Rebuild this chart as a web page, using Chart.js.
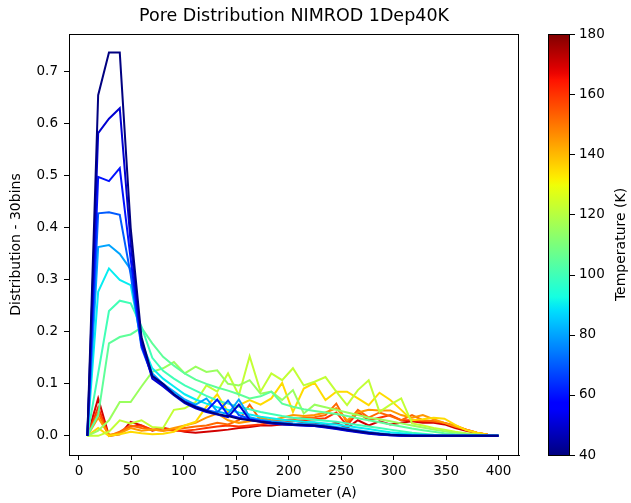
<!DOCTYPE html>
<html><head><meta charset="utf-8">
<script src="https://cdn.jsdelivr.net/npm/chart.js@4.4.1/dist/chart.umd.min.js"></script>
<style>html,body{margin:0;padding:0;background:#fff;}canvas{display:block;}</style>
</head><body>
<canvas id="c" width="631" height="503" style="width:631px;height:503px"></canvas>
<script>
// ---- data ----
const poreDiameter = [8,18.3,28.6,38.9,49.3,59.6,69.9,80.2,90.5,100.8,111.2,121.5,131.8,142.1,152.4,162.7,173.1,183.4,193.7,204,214.3,224.6,235,245.3,255.6,265.9,276.2,286.5,296.8,307.2,317.5,327.8,338.1,348.4,358.7,369.1,379.4,389.7,400];
const temperatures = [40,50,60,70,80,90,100,105,115,122,135,145,152,160,170];
const xTicks = [0,50,100,150,200,250,300,350,400];
const yTicks = [0,0.1,0.2,0.3,0.4,0.5,0.6,0.7];
const cbarTicks = [40,60,80,100,120,140,160,180];
const cbarRange = [40,180];

const dist40 = [0,0.655,0.737,0.737,0.40,0.19,0.115,0.10,0.08,0.065, 0.055,0.048,0.042,0.038,0.033,0.03,0.027,0.025,0.024,0.022, 0.021,0.02,0.018,0.015,0.012,0.009,0.006,0.004,0.002,0.001, 0,0,0,0,0,0,0,0,0];
const dist50 = [0,0.582,0.61,0.63,0.37,0.18,0.11,0.095,0.078,0.063, 0.053,0.046,0.041,0.036,0.06,0.031,0.027,0.024,0.022,0.021, 0.02,0.019,0.016,0.013,0.01,0.007,0.004,0.002,0.001,0, 0,0,0,0,0,0,0,0,0];
const dist60 = [0,0.498,0.49,0.515,0.34,0.175,0.115,0.098,0.08,0.066, 0.056,0.048,0.07,0.04,0.035,0.031,0.028,0.025,0.023,0.021, 0.02,0.019,0.017,0.014,0.011,0.008,0.005,0.003,0.001,0, 0,0,0,0,0,0,0,0,0];
const dist70 = [0,0.428,0.43,0.425,0.31,0.17,0.115,0.097,0.08,0.066, 0.057,0.05,0.045,0.068,0.04,0.033,0.029,0.026,0.024,0.022, 0.021,0.02,0.018,0.015,0.012,0.009,0.006,0.003,0.002,0.001, 0,0,0,0,0,0,0,0,0];
const dist80 = [0,0.363,0.367,0.35,0.32,0.175,0.12,0.1,0.085,0.07, 0.06,0.072,0.047,0.042,0.07,0.036,0.031,0.028,0.026,0.024, 0.023,0.022,0.02,0.017,0.014,0.011,0.008,0.005,0.003,0.002, 0.001,0,0,0,0,0,0,0,0];
const dist90 = [0,0.277,0.322,0.3,0.29,0.18,0.13,0.11,0.095,0.08, 0.07,0.062,0.055,0.05,0.045,0.041,0.037,0.034,0.031,0.029, 0.027,0.026,0.024,0.022,0.019,0.016,0.013,0.01,0.007,0.005, 0.003,0.002,0.001,0,0,0,0,0,0];
const dist100 = [0,0.12,0.24,0.26,0.255,0.21,0.15,0.125,0.11,0.097, 0.087,0.077,0.068,0.062,0.056,0.051,0.046,0.042,0.038,0.035, 0.033,0.031,0.029,0.027,0.024,0.021,0.018,0.015,0.012,0.009, 0.006,0.004,0.002,0.001,0,0,0,0,0];
const dist105 = [0,0.04,0.178,0.19,0.195,0.208,0.178,0.152,0.135,0.12, 0.108,0.1,0.093,0.087,0.08,0.072,0.076,0.085,0.062,0.056, 0.051,0.048,0.045,0.042,0.038,0.034,0.03,0.026,0.022,0.018, 0.014,0.011,0.008,0.005,0.003,0.002,0.001,0,0];
const dist115 = [0,0.01,0.03,0.065,0.065,0.095,0.123,0.13,0.142,0.12, 0.133,0.123,0.126,0.1,0.097,0.107,0.081,0.085,0.069,0.088, 0.043,0.06,0.055,0.05,0.045,0.04,0.035,0.032,0.028,0.024, 0.02,0.016,0.012,0.009,0.006,0.004,0.002,0.001,0];
const dist122 = [0,0,0.008,0.03,0.024,0.03,0.017,0.015,0.05,0.053, 0.065,0.097,0.085,0.12,0.078,0.153,0.085,0.12,0.107,0.13, 0.097,0.104,0.113,0.085,0.059,0.088,0.107,0.046,0.06,0.072, 0.024,0.02,0.015,0.012,0.008,0.005,0.003,0.001,0];
const dist135 = [0,0.015,0,0.003,0.008,0.005,0.003,0.004,0.008,0.02, 0.027,0.056,0.08,0.046,0.059,0.069,0.06,0.072,0.102,0.046, 0.091,0.102,0.069,0.085,0.085,0.072,0.059,0.083,0.069,0.05, 0.03,0.032,0.035,0.033,0.021,0.011,0.006,0.002,0];
const dist145 = [0,0.035,0.002,0.005,0.015,0.01,0.012,0.01,0.015,0.02, 0.025,0.035,0.043,0.03,0.025,0.028,0.035,0.03,0.035,0.04, 0.038,0.04,0.045,0.053,0.03,0.045,0.05,0.049,0.049,0.04, 0.035,0.04,0.032,0.025,0.018,0.012,0.006,0.002,0];
const dist152 = [0,0.045,0,0.008,0.02,0.015,0.012,0.01,0.012,0.015, 0.018,0.02,0.025,0.022,0.03,0.06,0.03,0.028,0.03,0.032, 0.035,0.036,0.04,0.062,0.025,0.05,0.035,0.045,0.038,0.03, 0.04,0.03,0.028,0.025,0.02,0.012,0.006,0.002,0];
const dist160 = [0,0.055,0,0.005,0.018,0.02,0.012,0.015,0.01,0.01, 0.012,0.015,0.018,0.02,0.018,0.02,0.022,0.025,0.025,0.028, 0.03,0.032,0.034,0.045,0.02,0.045,0.03,0.035,0.04,0.03, 0.03,0.028,0.028,0.025,0.018,0.012,0.006,0.002,0];
const dist170 = [0,0.072,0,0.003,0.027,0.02,0.01,0.015,0.012,0.008, 0.006,0.008,0.01,0.012,0.015,0.017,0.02,0.02,0.022,0.022, 0.025,0.025,0.02,0.025,0.015,0.03,0.02,0.028,0.022,0.025, 0.028,0.025,0.025,0.022,0.015,0.01,0.005,0.002,0];

const seriesList = [dist40,dist50,dist60,dist70,dist80,dist90,dist100,dist105,dist115,dist122,dist135,dist145,dist152,dist160,dist170];

// ---- jet colormap (matplotlib segment data) ----
function interp(seg, t){
  for (let k=1;k<seg.length;k++){
    if (t <= seg[k][0]) { const a=seg[k-1], b=seg[k]; return a[1] + (b[1]-a[1])*(t-a[0])/(b[0]-a[0]); }
  }
  return seg[seg.length-1][1];
}
const jetR=[[0,0],[0.35,0],[0.66,1],[0.89,1],[1,0.5]];
const jetG=[[0,0],[0.125,0],[0.375,1],[0.64,1],[0.91,0],[1,0]];
const jetB=[[0,0.5],[0.11,1],[0.34,1],[0.65,0],[1,0]];
function jet(t){
  t=Math.max(0,Math.min(1,t));
  return `rgb(${Math.round(interp(jetR,t)*255)},${Math.round(interp(jetG,t)*255)},${Math.round(interp(jetB,t)*255)})`;
}
function tempColor(T){ return jet((T-cbarRange[0])/(cbarRange[1]-cbarRange[0])); }

const FONT = "'DejaVu Sans', sans-serif";
const TICK_PX = 13.5;
const LABEL_PX = 14;
const TITLE_PX = 17.5;

const datasets = seriesList.map((s,k)=>({
  label: temperatures[k]+' K',
  data: poreDiameter.map((x,i)=>({x:x, y:s[i]})),
  borderColor: tempColor(temperatures[k]),
  backgroundColor: tempColor(temperatures[k]),
  borderWidth: 2,
  pointRadius: 0,
  tension: 0,
  fill: false
}));

const decor = {
  id:'decor',
  afterDatasetsDraw(chart){
    const ctx=chart.ctx, a=chart.chartArea;
    ctx.save();
    ctx.strokeStyle='#000'; ctx.lineWidth=1;
    ctx.strokeRect(Math.round(a.left)+0.5, Math.round(a.top)+0.5, Math.round(a.right-a.left)-1, Math.round(a.bottom-a.top));
    ctx.restore();
  },
  afterDraw(chart){
    const ctx=chart.ctx, a=chart.chartArea;
    ctx.save();
    ctx.fillStyle='#000';
    ctx.font = `${TITLE_PX}px ${FONT}`;
    ctx.textAlign='center'; ctx.textBaseline='middle';
    ctx.fillText('Pore Distribution NIMROD 1Dep40K', (a.left+a.right)/2, 16);
    ctx.font = `${LABEL_PX}px ${FONT}`;
    ctx.fillText('Pore Diameter (A)', (a.left+a.right)/2, 493);
    ctx.save();
    ctx.translate(16,(a.top+a.bottom)/2); ctx.rotate(-Math.PI/2);
    ctx.fillText('Distribution - 30bins',0,0);
    ctx.restore();
    // colorbar
    const cx0=548, cx1=570, cy0=a.top, cy1=a.bottom;
    const g=ctx.createLinearGradient(0,cy1,0,cy0);
    for(let k=0;k<=64;k++){ g.addColorStop(k/64, jet(k/64)); }
    ctx.fillStyle=g;
    ctx.fillRect(cx0,cy0,cx1-cx0,cy1-cy0);
    ctx.strokeStyle='#000'; ctx.lineWidth=1;
    ctx.strokeRect(cx0+0.5,cy0+0.5,cx1-cx0-1,cy1-cy0);
    ctx.fillStyle='#000';
    ctx.textAlign='left'; ctx.textBaseline='middle';
    ctx.font = `${TICK_PX}px ${FONT}`;
    cbarTicks.forEach(v=>{
      const y = cy1 - (v-cbarRange[0])/(cbarRange[1]-cbarRange[0])*(cy1-cy0);
      const yy=Math.round(y)+0.5;
      ctx.beginPath(); ctx.moveTo(cx1,yy); ctx.lineTo(cx1+5,yy); ctx.stroke();
      ctx.fillText(String(v), cx1+9, y);
    });
    ctx.font = `${LABEL_PX}px ${FONT}`;
    ctx.save();
    ctx.translate(621,(cy0+cy1)/2); ctx.rotate(-Math.PI/2);
    ctx.textAlign='center';
    ctx.fillText('Temperature (K)',0,0);
    ctx.restore();
    ctx.restore();
  }
};

new Chart(document.getElementById('c'), {
  type:'line',
  data:{datasets},
  plugins:[decor],
  options:{
    responsive:false, animation:false, devicePixelRatio:1,
    layout:{padding:{top:34,right:112,left:0,bottom:0}},
    plugins:{legend:{display:false}, tooltip:{enabled:false}, title:{display:false}},
    scales:{
      x:{
        type:'linear', min:-9.5, max:419.5,
        afterBuildTicks:(ax)=>{ ax.ticks = xTicks.map(v=>({value:v})); },
        afterFit:(s)=>{ s.height = 48; },
        grid:{drawOnChartArea:false, drawTicks:true, tickLength:5, color:'#000', lineWidth:1},
        border:{display:true, color:'#000', width:1},
        ticks:{color:'#000', font:{family:FONT, size:TICK_PX}, padding:3, maxRotation:0, autoSkip:false, callback:(v)=>String(v)}
      },
      y:{
        type:'linear', min:-0.0368, max:0.7728,
        afterBuildTicks:(ax)=>{ ax.ticks = yTicks.map(v=>({value:v})); },
        afterFit:(s)=>{ s.width = 69; },
        grid:{drawOnChartArea:false, drawTicks:true, tickLength:5, color:'#000', lineWidth:1},
        border:{display:true, color:'#000', width:1},
        ticks:{color:'#000', font:{family:FONT, size:TICK_PX}, padding:6, autoSkip:false, callback:(v)=>Number(v).toFixed(1)}
      }
    }
  }
});
</script>
</body></html>
